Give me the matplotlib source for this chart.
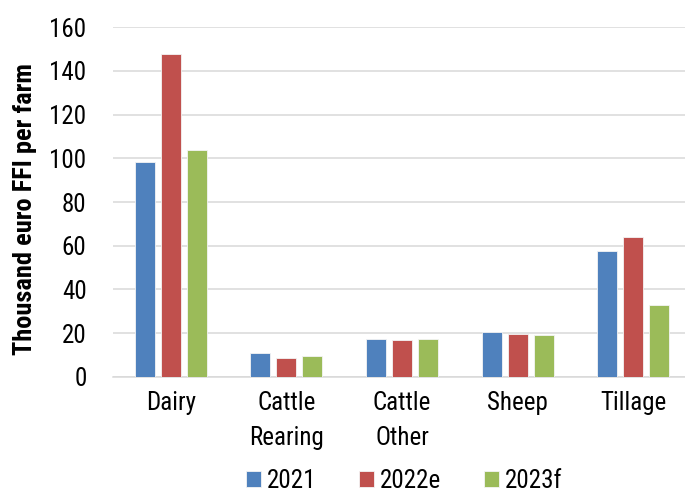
import numpy as np
import matplotlib.pyplot as plt

plt.rcParams['font.family'] = ['Roboto Condensed', 'DejaVu Sans']

# Farm system categories and family farm income (thousand euro per farm)
categories = ['Dairy', 'Cattle\nRearing', 'Cattle\nOther', 'Sheep', 'Tillage']
years = ['2021', '2022e', '2023f']
ffi_2021 = [98.4, 10.7, 17.1, 20.6, 57.7]
ffi_2022e = [147.8, 8.6, 16.8, 19.7, 63.8]
ffi_2023f = [103.9, 9.5, 17.3, 19.2, 32.8]
colors = ['#4F81BD', '#C0504D', '#9BBB59']

fig = plt.figure(figsize=(6.85, 4.93), dpi=100)
# axes runs slightly past the right edge, like the cropped original
ax = fig.add_axes([113 / 685, 116.3 / 493, 578 / 685, 349.4 / 493])

x = np.arange(len(categories))
step = 0.225
width = 0.173
for i, (vals, year) in enumerate(zip([ffi_2021, ffi_2022e, ffi_2023f], years)):
    ax.bar(x + (i - 1) * step, vals, width, color=colors[i], label=year,
           edgecolor='#f4f4f4', linewidth=0.6, zorder=3)

ax.set_xlim(-0.5, len(categories) - 0.5)
ax.set_ylim(0, 160)
ax.set_yticks(np.arange(0, 161, 20))
ax.set_xticks(x)
ax.set_xticklabels(categories, fontsize=18, linespacing=1.58)
ax.tick_params(axis='y', labelsize=18, length=0, pad=19)
ax.tick_params(axis='x', length=0, pad=10)
ax.yaxis.grid(True, color='#d9d9d9', linewidth=1.1, zorder=0)
for s in ['top', 'right', 'left']:
    ax.spines[s].set_visible(False)
ax.spines['bottom'].set_color('#d9d9d9')
ax.spines['bottom'].set_linewidth(1.1)

ax.set_ylabel('Thousand euro FFI per farm', fontsize=19, fontweight='bold')
ax.yaxis.set_label_coords(-0.1315, 0.481)

fig.legend(loc='center', bbox_to_anchor=(404 / 685, 1 - 481 / 493), ncol=3, frameon=False,
           fontsize=18, handlelength=0.6, handleheight=0.6, handletextpad=0.25,
           columnspacing=1.7, borderpad=0, borderaxespad=0)

fig.savefig('out.png', dpi=100)
